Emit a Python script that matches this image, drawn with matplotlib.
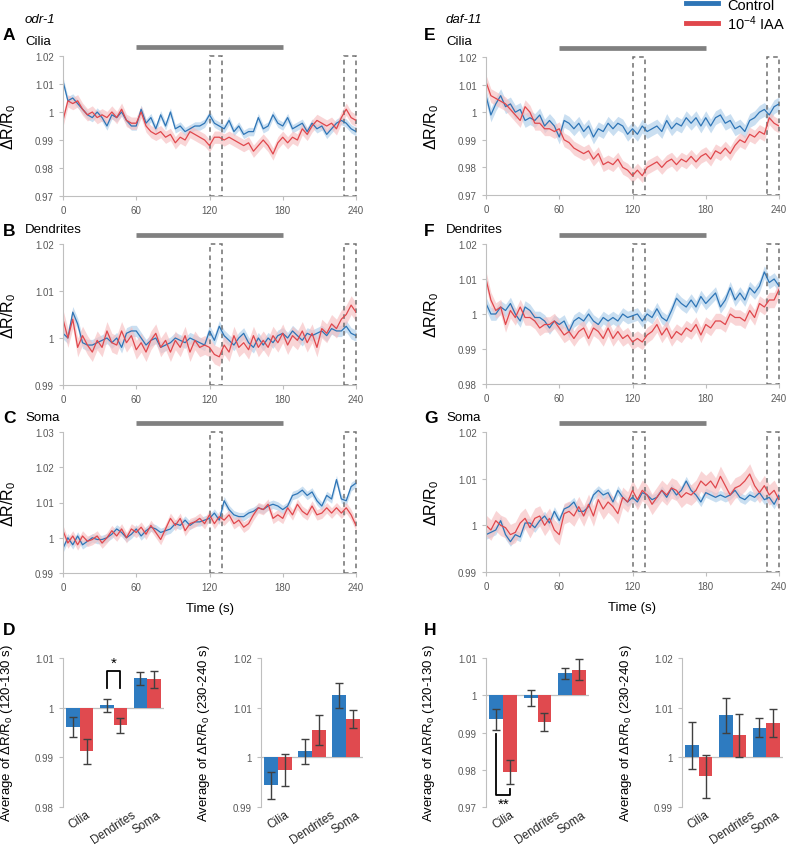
import numpy as np
import matplotlib
matplotlib.use('Agg')
import matplotlib.pyplot as plt
from matplotlib.patches import Rectangle
from matplotlib.lines import Line2D
from matplotlib.ticker import FuncFormatter

plt.rcParams['font.family'] = ['Liberation Sans', 'DejaVu Sans']
plt.rcParams['mathtext.fontset'] = 'custom'
plt.rcParams['mathtext.rm'] = 'Liberation Sans'
plt.rcParams['mathtext.it'] = 'Liberation Sans:italic'

time_s = np.arange(0, 241, 4)
stim = [60, 180]
windows = [(120, 130), (230, 240)]

odr1_cilia_ctrl = [1.011, 1.004, 1.005, 1.003, 1.001, 0.999, 0.998, 1.000, 0.998, 0.995,
                   0.999, 0.998, 1.000, 0.997, 0.995, 0.995, 1.001, 0.996, 0.998, 0.994,
                   0.999, 0.995, 1.000, 0.994, 0.995, 0.993, 0.994, 0.995, 0.995, 0.996,
                   0.999, 0.996, 0.995, 0.994, 0.997, 0.993, 0.995, 0.992, 0.993, 0.993,
                   0.998, 0.994, 0.995, 0.999, 0.996, 0.995, 0.998, 0.994, 0.995, 0.996,
                   0.993, 0.996, 0.994, 0.995, 0.992, 0.994, 0.996, 0.997, 0.996, 0.994,
                   0.993]
odr1_cilia_iaa = [0.997, 1.004, 1.003, 1.004, 1.001, 0.999, 1.000, 0.998, 0.999, 0.998,
                  1.000, 0.998, 1.001, 0.997, 0.996, 0.996, 1.000, 0.995, 0.993, 0.992,
                  0.993, 0.991, 0.992, 0.989, 0.991, 0.990, 0.993, 0.992, 0.991, 0.990,
                  0.988, 0.991, 0.991, 0.990, 0.991, 0.990, 0.989, 0.988, 0.989, 0.986,
                  0.988, 0.990, 0.988, 0.985, 0.989, 0.991, 0.989, 0.991, 0.990, 0.994,
                  0.992, 0.995, 0.997, 0.996, 0.995, 0.996, 0.994, 0.998, 1.001, 0.998,
                  0.997]

odr1_dend_ctrl = [1.001, 1.000, 1.0055, 1.003, 0.999, 0.9985, 0.9985, 0.999, 0.9995, 1.000,
                  0.999, 1.000, 0.998, 1.001, 1.0015, 1.0015, 1.000, 0.9985, 0.9995, 1.000,
                  0.998, 0.9985, 0.999, 1.000, 0.9995, 0.999, 1.000, 0.9995, 0.999, 0.9985,
                  1.0015, 0.9995, 1.0025, 1.0005, 0.9995, 0.9985, 1.000, 1.001, 0.999, 0.998,
                  1.000, 0.9985, 1.000, 0.999, 1.0005, 1.001, 1.000, 1.0015, 1.0005, 0.9995,
                  1.001, 1.0005, 1.001, 1.0015, 1.0005, 1.002, 1.0015, 1.0015, 1.0025, 1.001,
                  1.0005]
odr1_dend_iaa = [1.004, 1.000, 1.004, 0.998, 1.0005, 0.9985, 0.997, 0.9995, 0.998, 1.0015,
                 0.999, 0.9985, 1.0015, 0.999, 1.0005, 0.9975, 0.999, 0.997, 0.9995, 1.001,
                 0.998, 0.9995, 0.997, 0.9995, 0.998, 1.0005, 0.997, 0.9995, 0.998, 0.9985,
                 0.998, 0.9965, 0.996, 0.9985, 0.997, 1.0005, 0.998, 0.999, 0.9975, 1.0005,
                 0.998, 0.9995, 0.998, 1.0005, 0.999, 1.001, 0.9985, 1.0005, 0.9995, 1.0015,
                 0.999, 1.001, 0.998, 1.002, 1.001, 1.003, 1.002, 1.004, 1.005, 1.007,
                 1.0055]

odr1_soma_ctrl = [0.997, 1.000, 0.998, 1.0005, 0.998, 0.999, 1.000, 0.9995, 0.9995, 1.000,
                  1.001, 1.0025, 1.0015, 1.000, 1.001, 1.0025, 1.0005, 1.002, 1.003, 1.0025,
                  1.0015, 1.002, 1.0025, 1.004, 1.0035, 1.005, 1.0035, 1.0045, 1.0045, 1.005,
                  1.0055, 1.007, 1.005, 1.0105, 1.008, 1.0065, 1.006, 1.006, 1.007, 1.0075,
                  1.0085, 1.008, 1.009, 1.0095, 1.009, 1.008, 1.009, 1.012, 1.0125, 1.0135,
                  1.012, 1.013, 1.0105, 1.009, 1.012, 1.011, 1.0165, 1.011, 1.0105, 1.0145,
                  1.0155]
odr1_soma_iaa = [1.002, 0.9985, 1.0005, 0.998, 1.0005, 0.999, 0.9995, 1.0005, 0.9985, 1.000,
                 1.002, 1.0005, 1.0025, 1.000, 1.0025, 1.0015, 1.003, 1.001, 1.0035, 1.0015,
                 0.9995, 1.0025, 1.0055, 1.0035, 1.0055, 1.002, 1.004, 1.0045, 1.0055, 1.004,
                 1.0065, 1.004, 1.006, 1.005, 1.0065, 1.004, 1.005, 1.003, 1.004, 1.0065,
                 1.0085, 1.008, 1.0095, 1.0055, 1.0065, 1.0055, 1.0085, 1.0065, 1.0095, 1.0075,
                 1.0065, 1.009, 1.0065, 1.007, 1.0085, 1.007, 1.0085, 1.007, 1.0085, 1.0065,
                 1.0035]

daf11_cilia_ctrl = [1.006, 0.999, 1.003, 1.006, 1.002, 1.003, 1.000, 1.001, 0.997, 0.998,
                    0.997, 0.999, 0.995, 0.997, 0.995, 0.991, 0.997, 0.996, 0.994, 0.996,
                    0.993, 0.995, 0.991, 0.994, 0.993, 0.996, 0.994, 0.996, 0.995, 0.992,
                    0.994, 0.992, 0.995, 0.993, 0.994, 0.995, 0.993, 0.997, 0.994, 0.996,
                    0.995, 0.998, 0.996, 0.998, 0.995, 0.998, 0.995, 0.998, 0.999, 0.996,
                    0.997, 0.994, 0.995, 0.993, 0.997, 0.998, 1.000, 1.001, 0.999, 1.002,
                    1.003]
daf11_cilia_iaa = [1.011, 1.006, 1.005, 1.004, 1.003, 1.001, 0.999, 0.997, 1.002, 1.000,
                   0.996, 0.996, 0.994, 0.994, 0.993, 0.994, 0.990, 0.989, 0.987, 0.986,
                   0.985, 0.986, 0.983, 0.985, 0.981, 0.982, 0.981, 0.983, 0.980, 0.979,
                   0.977, 0.979, 0.977, 0.980, 0.981, 0.982, 0.980, 0.982, 0.983, 0.981,
                   0.983, 0.982, 0.984, 0.982, 0.984, 0.985, 0.983, 0.986, 0.985, 0.987,
                   0.985, 0.988, 0.990, 0.989, 0.992, 0.991, 0.993, 0.992, 0.998, 0.996,
                   0.995]

daf11_dend_ctrl = [1.003, 1.000, 1.000, 1.002, 1.001, 1.003, 1.000, 0.998, 1.002, 1.001,
                   0.999, 0.999, 0.998, 0.996, 0.998, 0.997, 0.998, 0.995, 0.998, 0.999,
                   0.998, 1.000, 0.998, 0.997, 0.999, 0.998, 0.999, 0.998, 1.000, 0.999,
                   0.9995, 1.000, 0.998, 1.000, 0.999, 1.0015, 0.999, 0.998, 1.001, 1.0045,
                   1.003, 1.002, 1.004, 1.002, 1.005, 1.003, 1.0045, 1.006, 1.002, 1.004,
                   1.0075, 1.004, 1.006, 1.004, 1.0075, 1.006, 1.008, 1.012, 1.009, 1.010,
                   1.008]
daf11_dend_iaa = [1.010, 1.004, 1.001, 1.002, 0.997, 1.001, 0.999, 1.002, 0.999, 0.999,
                  0.998, 0.996, 0.997, 0.997, 0.998, 0.996, 0.994, 0.995, 0.993, 0.995,
                  0.996, 0.993, 0.996, 0.995, 0.993, 0.996, 0.993, 0.995, 0.993, 0.994,
                  0.992, 0.993, 0.992, 0.994, 0.995, 0.997, 0.994, 0.996, 0.993, 0.995,
                  0.994, 0.996, 0.995, 0.997, 0.994, 0.997, 0.996, 0.998, 0.998, 0.997,
                  1.000, 0.999, 0.999, 0.998, 1.001, 0.999, 1.003, 1.002, 1.004, 1.004,
                  1.007]

daf11_soma_ctrl = [0.998, 0.9985, 0.999, 1.001, 0.998, 0.9965, 0.998, 0.9975, 1.0005, 1.0005,
                   0.9995, 1.001, 1.002, 1.0005, 1.003, 1.001, 1.0035, 1.004, 1.005, 1.003,
                   1.003, 1.004, 1.0065, 1.0075, 1.0065, 1.007, 1.005, 1.0075, 1.006, 1.005,
                   1.006, 1.005, 1.007, 1.0065, 1.0055, 1.006, 1.0075, 1.006, 1.008, 1.0065,
                   1.0075, 1.0095, 1.0075, 1.0065, 1.005, 1.007, 1.0065, 1.006, 1.0065, 1.006,
                   1.0065, 1.0075, 1.006, 1.0055, 1.0065, 1.006, 1.007, 1.0055, 1.006, 1.0045,
                   1.0065]
daf11_soma_iaa = [1.000, 0.999, 1.001, 1.000, 0.9995, 0.998, 0.9985, 1.0005, 1.0015, 0.9995,
                  1.0015, 1.002, 1.000, 1.0015, 0.999, 0.998, 1.0025, 1.003, 1.002, 1.004,
                  1.002, 1.0045, 1.002, 1.0055, 1.0035, 1.005, 1.004, 1.0025, 1.006, 1.005,
                  1.0075, 1.0055, 1.0075, 1.0065, 1.0045, 1.006, 1.0075, 1.0065, 1.008, 1.0075,
                  1.006, 1.007, 1.0065, 1.0075, 1.0095, 1.0085, 1.0095, 1.008, 1.0105, 1.0085,
                  1.0065, 1.008, 1.0085, 1.0095, 1.011, 1.0085, 1.007, 1.0085, 1.0065, 1.0075,
                  1.0055]

# SEM of each trace (ctrl, IAA)
sem_odr1 = {'cilia': (0.0015, 0.0022), 'dend': (0.0012, 0.0020), 'soma': (0.0012, 0.0015)}
sem_daf11 = {'cilia': (0.0025, 0.0025), 'dend': (0.0018, 0.0022), 'soma': (0.0010, 0.0022)}

regions = ['Cilia', 'Dendrites', 'Soma']
odr1_early_ctrl = [0.9961, 1.0005, 1.0059]
odr1_early_ctrl_err = [0.0020, 0.0013, 0.0013]
odr1_early_iaa = [0.9912, 0.9965, 1.0057]
odr1_early_iaa_err = [0.0025, 0.0015, 0.0017]
odr1_late_ctrl = [0.9944, 1.0012, 1.0125]
odr1_late_ctrl_err = [0.0027, 0.0025, 0.0025]
odr1_late_iaa = [0.9975, 1.0055, 1.0077]
odr1_late_iaa_err = [0.0032, 0.0030, 0.0018]
daf11_early_ctrl = [0.9935, 0.9993, 1.0059]
daf11_early_ctrl_err = [0.0028, 0.0022, 0.0015]
daf11_early_iaa = [0.9794, 0.9928, 1.0069]
daf11_early_iaa_err = [0.0033, 0.0024, 0.0027]
daf11_late_ctrl = [1.0024, 1.0085, 1.0060]
daf11_late_ctrl_err = [0.0047, 0.0035, 0.0020]
daf11_late_iaa = [0.9962, 1.0044, 1.0069]
daf11_late_iaa_err = [0.0043, 0.0044, 0.0028]

# ---- style ----
W, H = 794, 853
BLUE = '#2E75B6'
RED = '#E0474C'
BAR_BLUE = '#2E7BC0'
BAR_RED = '#E04A4F'
SPINE = '#BFBFBF'
TICKLAB = '#595959'

fig = plt.figure(figsize=(W / 100, H / 100), dpi=100)


def add_ax(left, top, right, bottom):
    return fig.add_axes([left / W, 1 - bottom / H, (right - left) / W, (bottom - top) / H])


def figtext(x, y, s, **kw):
    fig.text(x / W, 1 - y / H, s, va='center', ha='left', **kw)


def style_axis(ax):
    for side in ('top', 'right'):
        ax.spines[side].set_visible(False)
    for side in ('left', 'bottom'):
        ax.spines[side].set_color(SPINE)
        ax.spines[side].set_linewidth(0.8)
    ax.tick_params(colors=SPINE, labelcolor=TICKLAB, labelsize=7, length=3, width=0.8)
    ax.yaxis.set_major_formatter(FuncFormatter(lambda v, p: f'{v:g}'))


def trace_panel(box, ctrl, iaa, sem, ylim, yticks, xlabel=False):
    ax = add_ax(*box)
    ctrl = np.array(ctrl)
    iaa = np.array(iaa)
    ax.fill_between(time_s, ctrl - sem[0], ctrl + sem[0], color='#BDD7EE', alpha=0.8, lw=0)
    ax.fill_between(time_s, iaa - sem[1], iaa + sem[1], color='#F6BFC1', alpha=0.65, lw=0)
    ax.plot(time_s, ctrl, color=BLUE, lw=0.9)
    ax.plot(time_s, iaa, color=RED, lw=0.9)
    ax.set_xlim(0, 240)
    ax.set_ylim(*ylim)
    ax.set_xticks([0, 60, 120, 180, 240])
    ax.set_yticks(yticks)
    style_axis(ax)
    for a, b in windows:
        ax.add_patch(Rectangle((a, ylim[0]), b - a, ylim[1] - ylim[0], fill=False,
                               ls=(0, (3, 2.5)), ec='#707070', lw=1.1, clip_on=False))
    h_px = box[3] - box[1]
    ax.plot(stim, [1 + 9.5 / h_px] * 2, transform=ax.get_xaxis_transform(),
            color='#808080', lw=3.4, clip_on=False, solid_capstyle='butt')
    ax.set_ylabel('ΔR/R$_0$', fontsize=11.5, color='black')
    ax.yaxis.set_label_coords(-0.155, 0.5)
    if xlabel:
        ax.set_xlabel('Time (s)', fontsize=9.5, labelpad=7)
    return ax


def bar_panel(box, ctrl, ctrl_err, iaa, iaa_err, ylim, yticks, window):
    ax = add_ax(*box)
    x = np.arange(len(regions))
    ctrl = np.array(ctrl)
    iaa = np.array(iaa)
    ekw = dict(ecolor='#404040', elinewidth=1.0, capsize=3.2, capthick=1.0)
    ax.bar(x - 0.2, ctrl - 1, 0.4, bottom=1, color=BAR_BLUE, yerr=ctrl_err, error_kw=ekw, zorder=2)
    ax.bar(x + 0.2, iaa - 1, 0.4, bottom=1, color=BAR_RED, yerr=iaa_err, error_kw=ekw, zorder=2)
    ax.axhline(1, color=SPINE, lw=0.9, zorder=1)
    ax.set_xlim(-0.5, 2.5)
    ax.set_ylim(*ylim)
    ax.set_yticks(yticks)
    style_axis(ax)
    ax.spines['bottom'].set_visible(False)
    ax.set_xticks(x)
    ax.set_xticklabels(regions, rotation=33, ha='center', fontsize=8.5, color='#262626')
    ax.tick_params(axis='x', length=0, pad=1)
    ax.set_ylabel(f'Average of ΔR/R$_0$ ({window} s)', fontsize=9.5, color='black')
    ax.yaxis.set_label_coords(-0.48, 0.5)
    return ax


# ---- trace panels ----
yt5 = [0.97, 0.98, 0.99, 1.0, 1.01, 1.02]
trace_panel((63, 57, 356, 197), odr1_cilia_ctrl, odr1_cilia_iaa, sem_odr1['cilia'], (0.97, 1.02), yt5)
trace_panel((63, 245, 356, 386), odr1_dend_ctrl, odr1_dend_iaa, sem_odr1['dend'], (0.99, 1.02),
            [0.99, 1.0, 1.01, 1.02])
trace_panel((63, 433, 356, 574), odr1_soma_ctrl, odr1_soma_iaa, sem_odr1['soma'], (0.99, 1.03),
            [0.99, 1.0, 1.01, 1.02, 1.03], xlabel=True)
trace_panel((486, 58, 779, 196), daf11_cilia_ctrl, daf11_cilia_iaa, sem_daf11['cilia'], (0.97, 1.02), yt5)
trace_panel((486, 245, 779, 385), daf11_dend_ctrl, daf11_dend_iaa, sem_daf11['dend'], (0.98, 1.02),
            [0.98, 0.99, 1.0, 1.01, 1.02])
trace_panel((486, 433, 779, 573), daf11_soma_ctrl, daf11_soma_iaa, sem_daf11['soma'], (0.99, 1.02),
            [0.99, 1.0, 1.01, 1.02], xlabel=True)

# ---- bar panels ----
axD = bar_panel((63, 659, 164, 808), odr1_early_ctrl, odr1_early_ctrl_err, odr1_early_iaa,
                odr1_early_iaa_err, (0.98, 1.01), [0.98, 0.99, 1.0, 1.01], '120-130')
bar_panel((261, 659, 363, 808), odr1_late_ctrl, odr1_late_ctrl_err, odr1_late_iaa,
          odr1_late_iaa_err, (0.99, 1.02), [0.99, 1.0, 1.01, 1.02], '230-240')
axH = bar_panel((486, 659, 589, 808), daf11_early_ctrl, daf11_early_ctrl_err, daf11_early_iaa,
                daf11_early_iaa_err, (0.97, 1.01), [0.97, 0.98, 0.99, 1.0, 1.01], '120-130')
bar_panel((682, 659, 783, 808), daf11_late_ctrl, daf11_late_ctrl_err, daf11_late_iaa,
          daf11_late_iaa_err, (0.99, 1.02), [0.99, 1.0, 1.01, 1.02], '230-240')

# significance brackets
axD.plot([0.8, 0.8, 1.2, 1.2], [1.004, 1.0073, 1.0073, 1.004], color='black', lw=1.3)
axD.text(1.0, 1.0076, '*', ha='center', va='bottom', fontsize=11)
axH.plot([-0.2, -0.2, 0.2, 0.2], [0.9897, 0.9732, 0.9732, 0.9748], color='black', lw=1.3)
axH.text(0.0, 0.9727, '**', ha='center', va='top', fontsize=11)

# ---- labels ----
for x, letters, gene in [(3, 'ABCD', 'odr-1'), (424, 'EFGH', 'daf-11')]:
    figtext(x + 22, 20, gene, fontsize=9.5, style='italic')
    figtext(x, 36, letters[0], fontsize=12.5, weight='bold')
    figtext(x + 22, 42, 'Cilia', fontsize=9.5)
    figtext(x, 232, letters[1], fontsize=12.5, weight='bold')
    figtext(x + 22, 230, 'Dendrites', fontsize=9.5)
    figtext(x, 419, letters[2], fontsize=12.5, weight='bold')
    figtext(x + 22, 418, 'Soma', fontsize=9.5)
    figtext(x, 631, letters[3], fontsize=12.5, weight='bold')

handles = [Line2D([], [], color=BLUE, lw=3.5), Line2D([], [], color=RED, lw=3.5)]
fig.legend(handles, ['Control', '10$^{-4}$ IAA'], loc='upper right', bbox_to_anchor=(1.0, 1.012),
           frameon=False, fontsize=10.5, handlelength=2.2, handletextpad=0.6, labelspacing=0.1,
           borderaxespad=0.2)

fig.savefig('out.png', dpi=100, facecolor='white')
